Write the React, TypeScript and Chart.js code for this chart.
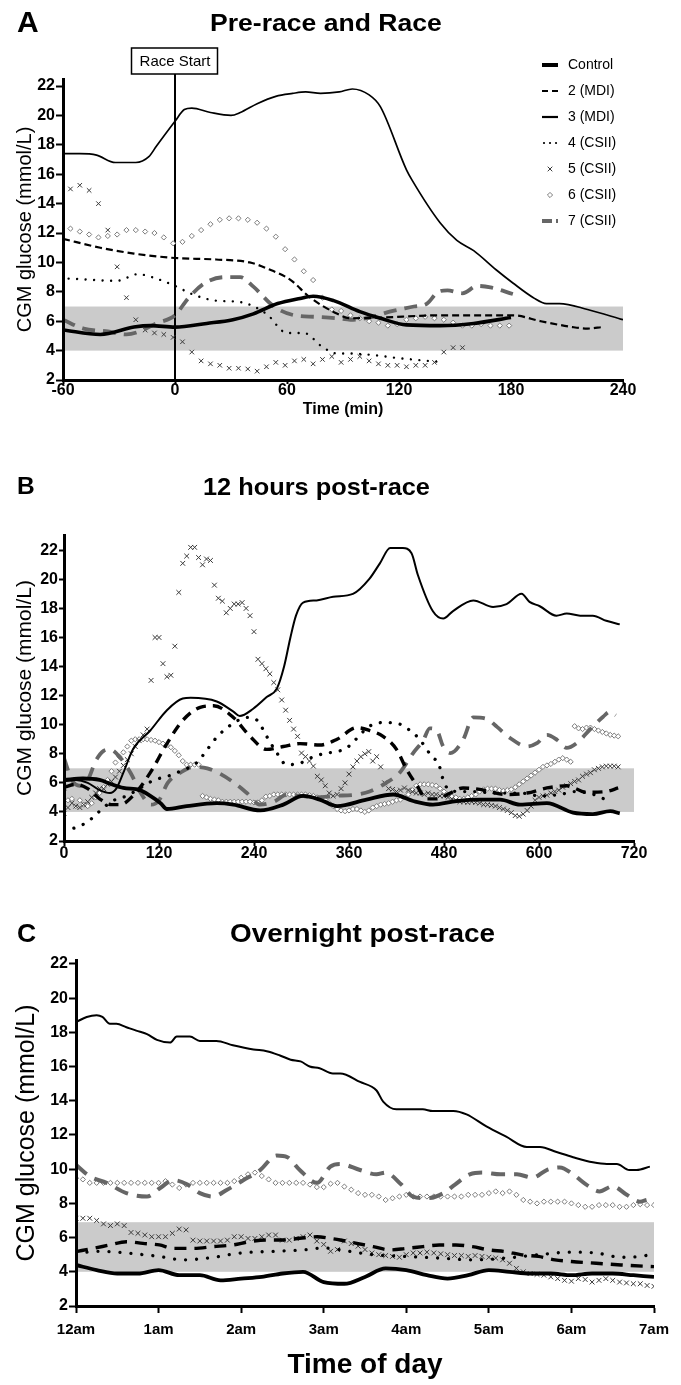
import React, { useEffect, useRef } from 'react';
import { Chart, registerables } from 'chart.js';

Chart.register(...registerables);

const FONT = "'Liberation Sans', Arial, Helvetica, sans-serif";
Chart.defaults.font.family = FONT;
Chart.defaults.color = '#000';

// ---------- labels / ticks ----------
const yTitle = 'CGM glucose (mmol/L)';
const yTicks = [2, 4, 6, 8, 10, 12, 14, 16, 18, 20, 22];
const aXTicks = [-60, 0, 60, 120, 180, 240];
const bXTicks = [0, 120, 240, 360, 480, 600, 720];
const cXTicks = [0, 1, 2, 3, 4, 5, 6, 7];
const cXLabels = ['12am', '1am', '2am', '3am', '4am', '5am', '6am', '7am'];
const seriesNames = ['Control', '2 (MDI)', '3 (MDI)', '4 (CSII)', '5 (CSII)', '6 (CSII)', '7 (CSII)'];
const targetAB = [4, 7];
const targetC = [4, 6.9];
const raceStartMin = 0;
const cgmStepMin = 5;

// ---------- Panel A: Pre-race and Race (minutes) ----------
const aCtrlT = [-60, -40, -22, -13, 0, 17, 31, 42, 55, 67, 74, 85, 99, 110, 124, 142, 160, 180];
const aCtrlV = [5.4, 5.1, 5.6, 5.7, 5.6, 5.85, 6.1, 6.5, 7.2, 7.55, 7.7, 7.4, 6.65, 6.2, 5.75, 5.7, 5.85, 6.25];
const a2T = [-60, -40, -22, 0, 22, 40, 49, 62, 72, 87, 94, 110, 142, 181, 196, 213, 221, 229];
const a2V = [11.6, 11.0, 10.6, 10.3, 10.2, 10.0, 9.6, 8.8, 7.65, 6.5, 6.2, 6.25, 6.4, 6.4, 6.0, 5.6, 5.5, 5.6];
const a3T = [-60, -51, -42, -32, -21, -14, -10, 0, 5, 9, 19, 30, 35, 44, 54, 63, 70, 78, 88, 95, 104, 110, 124, 127, 142, 151, 160, 172, 181, 192, 199, 206, 221, 240];
const a3V = [17.4, 17.4, 17.3, 16.8, 16.8, 17.2, 17.9, 19.6, 20.4, 20.5, 20.2, 20.0, 20.2, 20.8, 21.3, 21.5, 21.6, 21.5, 21.6, 21.8, 21.4, 20.6, 16.3, 15.6, 12.7, 11.5, 10.8, 9.5, 8.6, 7.6, 7.2, 7.2, 6.8, 6.1];
const a4T = [-57, -31, -20, -10, 0, 10, 22, 35, 49, 60, 69, 79, 87, 94, 106, 119, 140];
const a4V = [8.9, 8.75, 9.2, 8.9, 8.4, 7.8, 7.4, 7.3, 6.5, 5.2, 5.2, 4.25, 3.8, 3.8, 3.7, 3.5, 3.25];
const a5Start = -61;
const a5V = [14.5, 15.0, 15.25, 14.9, 14.0, 12.2, 9.7, 7.6, 6.1, 5.4, 5.2, 5.1, 4.9, 4.6, 3.9, 3.3, 3.1, 3.0, 2.8, 2.8, 2.75, 2.6, 2.9, 3.2, 3.0, 3.3, 3.4, 3.1, 3.4, 3.6, 3.2, 3.4, 3.6, 3.3, 3.1, 3.0, 3.0, 2.9, 3.0, 3.0, 3.2, 3.9, 4.2, 4.2];
const a6Start = -61;
const a6V = [12.25, 12.3, 12.1, 11.9, 11.7, 11.8, 11.9, 12.2, 12.2, 12.1, 12.0, 11.7, 11.3, 11.4, 11.8, 12.2, 12.6, 12.9, 13.0, 13.0, 12.9, 12.7, 12.3, 11.75, 10.9, 10.2, 9.4, 8.8, 7.6, 6.8, 6.7, 6.4, 6.2, 6.0, 5.9, 5.7, 5.8, 6.1, 6.2, 6.3, 6.2, 6.1, 5.9, 5.7, 5.7, 5.8, 5.7, 5.7, 5.7];
const a7T = [-60, -49, -36, -26, -19, -10, 0, 7, 16, 27, 35, 42, 53, 64, 75, 87, 94, 106, 115, 128, 135, 141, 146, 154, 162, 169, 181];
const a7V = [6.1, 5.5, 5.3, 5.1, 5.3, 5.85, 6.4, 7.55, 8.6, 9.0, 9.0, 8.35, 7.0, 6.4, 6.3, 6.2, 6.1, 6.3, 6.65, 7.0, 7.2, 8.0, 8.1, 7.9, 8.4, 8.3, 7.85];

// ---------- Panel B: 12 hours post-race (minutes) ----------
const bCtrlT = [0, 24, 45, 60, 75, 96, 109, 122, 130, 155, 193, 214, 248, 277, 302, 323, 345, 382, 416, 441, 466, 496, 525, 551, 576, 610, 643, 668, 690, 702];
const bCtrlV = [6.2, 6.3, 6.2, 5.9, 5.65, 5.5, 5.1, 4.6, 4.2, 4.4, 4.6, 4.5, 4.1, 4.5, 5.1, 4.85, 4.4, 4.85, 5.2, 4.75, 4.5, 4.75, 4.85, 4.85, 4.5, 4.6, 3.95, 3.85, 4.05, 3.9];
const b2T = [0, 15, 30, 45, 60, 71, 87, 109, 130, 150, 172, 189, 214, 235, 256, 277, 298, 323, 345, 370, 386, 403, 420, 433, 446, 458, 470, 488, 504, 525, 559, 585, 610, 635, 660, 685, 700];
const b2V = [5.7, 5.9, 5.6, 4.9, 4.5, 4.5, 5.1, 6.7, 8.7, 10.3, 11.2, 11.3, 10.5, 9.2, 8.3, 8.5, 8.7, 8.6, 9.0, 9.8, 9.6, 9.2, 8.3, 6.9, 5.8, 4.9, 4.9, 5.3, 5.65, 5.55, 5.2, 5.3, 5.65, 5.8, 5.35, 5.4, 5.65];
const b3T = [0, 15, 30, 45, 58, 66, 75, 87, 109, 130, 150, 160, 193, 214, 222, 239, 256, 269, 278, 286, 293, 302, 319, 340, 365, 386, 399, 412, 428, 439, 447, 466, 479, 491, 517, 542, 559, 578, 588, 601, 622, 635, 652, 668, 685, 702];
const b3V = [6.1, 6.2, 6.0, 5.5, 5.3, 5.6, 6.7, 8.3, 9.6, 11.0, 11.8, 11.85, 11.6, 10.9, 10.6, 11.1, 11.9, 12.5, 14.0, 16.0, 17.5, 18.4, 18.55, 18.8, 19.0, 20.05, 21.1, 22.15, 22.15, 21.8, 20.3, 17.8, 17.3, 17.8, 18.55, 18.1, 18.3, 19.0, 18.45, 18.15, 17.5, 17.65, 17.5, 17.5, 17.15, 16.9];
const b4T = [0, 10, 21, 34, 50, 63, 79, 101, 114, 131, 147, 168, 181, 194, 214, 231, 244, 256, 269, 281, 298, 315, 332, 345, 357, 366, 386, 405, 426, 437, 450, 458, 467, 473, 479, 484, 500, 517, 547, 576, 602, 627, 644, 669, 682, 692];
const b4V = [2.8, 2.85, 3.05, 3.5, 4.3, 4.8, 5.1, 5.8, 6.2, 6.45, 6.8, 7.4, 8.3, 9.2, 10.1, 10.5, 10.3, 9.2, 8.05, 7.25, 7.35, 7.8, 8.05, 8.15, 8.4, 8.85, 9.9, 10.15, 10.0, 9.6, 8.95, 8.3, 7.7, 7.35, 6.2, 5.65, 5.4, 5.4, 5.3, 5.3, 5.1, 5.2, 5.4, 5.2, 4.9, 4.75];
const b5V = [
  3.9, 4.3, 4.6, 4.4, 4.3, 4.5, 4.7, 5.0, 5.3, 5.6,
  5.6, 5.9, 6.1, 6.4, 6.8, 7.2, 7.6, 8.0, 8.5, 8.9,
  9.3, 9.7, 13.05, 16.0, 16.0, 14.2, 13.3, 13.4, 15.4, 19.1,
  21.1, 21.6, 22.2, 22.2, 21.5, 21.0, 21.4, 21.3, 19.6, 18.7,
  18.5, 17.7, 18.0, 18.3, 18.3, 18.4, 18.0, 17.5, 16.4, 14.5,
  14.2, 13.85, 13.5, 12.9, 12.4, 11.7, 11.0, 10.3, 9.7, 9.2,
  8.05, 7.8, 7.5, 7.15, 6.45, 6.2, 5.8, 5.3, 5.1, 5.2,
  5.6, 6.0, 6.6, 7.1, 7.5, 7.8, 8.0, 8.15, 7.5, 7.8,
  7.1, 6.0, 5.6, 5.55, 5.4, 5.5, 5.65, 5.5, 5.4, 5.3,
  5.3, 5.2, 5.3, 5.2, 5.2, 5.1, 5.1, 5.0, 4.9, 4.8,
  4.7, 4.7, 4.65, 4.7, 4.65, 4.6, 4.5, 4.5, 4.45, 4.4,
  4.3, 4.2, 4.1, 3.95, 3.75, 3.7, 3.85, 4.1, 4.4, 4.8,
  5.0, 5.1, 5.15, 5.3, 5.4, 5.5, 5.7, 5.8, 5.95, 6.1,
  6.2, 6.45, 6.6, 6.7, 6.9, 7.0, 7.1, 7.15, 7.15, 7.15,
  7.1,
];
const b6LowV = [
  5.5, 4.8, 4.9, 4.4, 4.8, 4.5, 4.4, 4.6, 5.0, 5.3,
  5.7, 6.2, 6.8, 7.4, 7.8, 8.1, 8.5, 8.9, 9.0, 9.0,
  9.0, 9.0, 8.95, 8.9, 8.8, 8.7, 8.6, 8.45, 8.2, 7.9,
  7.5, 7.25, 7.25, 7.25, 7.25, 5.1, 5.0, 4.9, 4.85, 4.8,
  4.7, 4.7, 4.7, 4.7, 4.7, 4.7, 4.7, 4.7, 4.65, 4.65,
  4.8, 5.05, 5.1, 5.2, 5.2, 5.2, 5.2, 5.2, 5.2, 5.2,
  5.2, 5.2, 5.15, 5.1, 5.0, 4.95, 4.85, 4.6, 4.4, 4.2,
  4.1, 4.05, 4.1, 4.2, 4.2, 4.1, 4.0, 4.1, 4.3, 4.4,
  4.5, 4.55, 4.6, 4.7, 4.8, 4.85, 5.0, 5.2, 5.5, 5.8,
  5.9, 5.9, 5.9, 5.85, 5.8, 5.6, 5.4, 5.2, 5.05, 5.0,
  4.9, 4.9, 5.0, 5.1, 5.2, 5.4, 5.55, 5.6, 5.6, 5.6,
  5.5, 5.45, 5.5, 5.55, 5.7, 5.9, 6.1, 6.3, 6.5, 6.7,
  6.9, 7.1, 7.2, 7.3, 7.45, 7.6, 7.7, 7.6, 7.45,
];
const b6HighStart = 645;
const b6HighV = [9.9, 9.75, 9.7, 9.8, 9.8, 9.7, 9.6, 9.5, 9.4, 9.3, 9.25, 9.2];
const b7T = [0, 10, 20, 30, 40, 50, 58, 70, 84, 97, 110, 120, 131, 147, 164, 181, 198, 215, 231, 248, 265, 282, 300, 320, 340, 370, 386, 407, 424, 441, 454, 462, 471, 479, 488, 504, 517, 534, 547, 563, 585, 598, 610, 623, 635, 648, 664, 681, 690, 697];
const b7V = [7.7, 6.2, 5.8, 6.2, 7.5, 8.2, 8.3, 7.8, 6.7, 5.3, 4.5, 4.8, 6.0, 6.7, 7.1, 7.0, 6.6, 6.0, 5.3, 4.5, 4.7, 5.2, 5.1, 5.0, 5.1, 5.2, 5.4, 6.0, 6.7, 8.05, 8.95, 9.75, 9.6, 8.5, 8.05, 8.95, 10.5, 10.4, 9.85, 9.1, 8.5, 8.75, 9.3, 8.95, 8.4, 8.75, 9.65, 10.55, 10.9, 10.65];

// ---------- Panel C: Overnight post-race (hours after midnight) ----------
const cCtrlH = [0, 0.25, 0.5, 0.75, 1, 1.25, 1.5, 1.75, 2, 2.25, 2.5, 2.75, 3, 3.25, 3.5, 3.75, 4, 4.25, 4.5, 4.75, 5, 5.25, 5.5, 5.75, 6, 6.25, 6.5, 6.75, 7];
const cCtrlV = [4.4, 4.1, 3.9, 3.9, 4.1, 3.8, 3.8, 3.5, 3.6, 3.7, 3.9, 4.0, 3.4, 3.3, 3.7, 4.2, 4.1, 3.8, 3.6, 3.8, 4.1, 4.0, 3.9, 3.9, 3.8, 3.9, 3.9, 3.8, 3.7];
const c2H = [0, 0.21, 0.41, 0.61, 0.81, 1.01, 1.18, 1.42, 1.66, 1.9, 2.1, 2.31, 2.51, 2.71, 2.92, 3.07, 3.2, 3.4, 3.6, 3.8, 4.0, 4.2, 4.4, 4.6, 4.8, 5.0, 5.2, 5.4, 5.6, 5.8, 6.0, 6.3, 6.6, 7.0];
const c2V = [5.18, 5.37, 5.57, 5.76, 5.66, 5.57, 5.37, 5.37, 5.47, 5.57, 5.76, 5.86, 5.86, 5.96, 6.05, 5.96, 5.86, 5.66, 5.47, 5.28, 5.37, 5.47, 5.57, 5.57, 5.47, 5.28, 5.18, 4.99, 4.9, 4.7, 4.6, 4.5, 4.4, 4.3];
const c3H = [0, 0.13, 0.25, 0.32, 0.41, 0.49, 0.61, 0.73, 0.86, 0.98, 1.14, 1.22, 1.38, 1.5, 1.7, 1.9, 2.15, 2.31, 2.47, 2.6, 2.72, 2.83, 2.95, 3.11, 3.2, 3.44, 3.64, 3.72, 3.88, 4.2, 4.32, 4.57, 4.73, 4.97, 5.21, 5.46, 5.62, 5.82, 6.02, 6.26, 6.43, 6.55, 6.7, 6.79, 6.95];
const c3V = [18.6, 18.9, 19.0, 18.9, 18.5, 18.5, 18.3, 18.1, 17.9, 17.56, 17.4, 17.75, 17.75, 17.5, 17.5, 17.25, 17.0, 16.9, 16.65, 16.4, 16.3, 16.0, 15.9, 15.6, 15.6, 15.1, 14.6, 13.95, 13.5, 13.5, 13.4, 13.4, 13.2, 12.5, 11.9, 11.3, 11.3, 11.0, 10.7, 10.4, 10.3, 10.3, 9.95, 9.95, 10.15];
const c4H = [0, 0.3, 0.6, 1.0, 1.3, 1.6, 2.0, 2.4, 2.8, 3.0, 3.3, 3.6, 4.0, 4.4, 4.8, 5.2, 5.6, 6.0, 6.3, 6.6, 6.9, 7.0];
const c4V = [5.1, 5.2, 5.1, 4.9, 4.7, 4.8, 5.1, 5.2, 5.3, 5.4, 5.2, 5.0, 4.9, 4.8, 4.7, 4.8, 5.0, 5.15, 5.1, 4.85, 4.95, 5.1];
const c5V = [
  7.13, 7.13, 7.13, 7.0, 6.8, 6.7, 6.8, 6.7, 6.3, 6.25,
  6.15, 6.05, 6.05, 6.05, 6.25, 6.5, 6.45, 5.85, 5.8, 5.8,
  5.8, 5.8, 5.85, 6.05, 6.05, 5.95, 5.95, 6.05, 6.15, 6.15,
  5.85, 5.85, 5.95, 6.05, 6.15, 5.8, 5.6, 5.2, 5.3, 5.8,
  5.65, 5.5, 5.3, 5.1, 5.0, 4.95, 4.9, 4.85, 5.0, 5.1,
  5.1, 5.15, 5.1, 5.05, 5.0, 4.95, 4.95, 4.9, 4.95, 4.9,
  4.85, 4.8, 4.7, 4.5, 4.2, 4.0, 3.9, 3.85, 3.8, 3.7,
  3.6, 3.5, 3.45, 3.6, 3.55, 3.4, 3.5, 3.6, 3.5, 3.4,
  3.35, 3.3, 3.3, 3.2, 3.15,
];
const c6V = [
  9.47, 9.4, 9.2, 9.2, 9.2, 9.2, 9.2, 9.2, 9.2, 9.2,
  9.2, 9.2, 9.2, 9.3, 9.1, 8.9, 9.1, 9.2, 9.2, 9.2,
  9.2, 9.2, 9.2, 9.3, 9.5, 9.7, 9.8, 9.6, 9.4, 9.2,
  9.2, 9.2, 9.2, 9.2, 9.1, 8.95, 8.95, 9.15, 9.2, 8.98,
  8.8, 8.6, 8.5, 8.5, 8.4, 8.2, 8.3, 8.4, 8.5, 8.4,
  8.4, 8.4, 8.4, 8.4, 8.4, 8.4, 8.4, 8.5, 8.5, 8.5,
  8.6, 8.7, 8.6, 8.7, 8.5, 8.2, 8.1, 8.0, 8.1, 8.1,
  8.1, 8.1, 8.0, 7.9, 7.8, 7.8, 7.9, 7.9, 7.9, 7.8,
  7.8, 7.9, 7.95, 7.9, 7.9,
];
const c7H = [0, 0.17, 0.37, 0.61, 0.86, 1.02, 1.18, 1.35, 1.5, 1.66, 1.83, 2.03, 2.23, 2.43, 2.56, 2.71, 2.92, 3.08, 3.2, 3.44, 3.64, 3.75, 3.94, 4.08, 4.25, 4.45, 4.59, 4.77, 4.93, 5.14, 5.34, 5.53, 5.7, 5.86, 6.02, 6.18, 6.34, 6.5, 6.67, 6.83, 6.91];
const c7V = [10.25, 9.57, 9.2, 8.6, 8.4, 8.9, 9.36, 9.1, 8.6, 8.4, 8.8, 9.36, 9.95, 10.8, 10.7, 9.95, 9.2, 10.15, 10.3, 9.95, 9.7, 9.8, 9.1, 8.4, 8.3, 8.6, 9.1, 9.7, 9.8, 9.7, 9.7, 9.5, 9.95, 10.1, 9.7, 9.1, 8.7, 9.0, 8.5, 8.1, 8.2];

// ---------- helpers ----------
const pts = (t: number[], v: number[]) => t.map((x, i) => ({ x, y: v[i] }));
const stepped = (start: number, step: number, v: number[]) => v.map((y, i) => ({ x: start + i * step, y }));

const BLACK = '#000';
const GREY_LINE = '#666';
const X_COLOR = '#3a3a3a';
const DIAMOND_COLOR = '#7c7c7c';
const BAND = '#cbcbcb';

type PS = {
  ctrlW: number; d2W: number; d2Dash: number[]; d3W: number; d4W: number; d4Gap: number;
  d7W: number; d7Dash: number[]; xR: number; dR: number;
};
const styleA: PS = { ctrlW: 3.6, d2W: 2.2, d2Dash: [7, 4], d3W: 1.7, d4W: 2.4, d4Gap: 8.5, d7W: 3.8, d7Dash: [13, 8], xR: 3.2, dR: 2.6 };
const styleB: PS = { ctrlW: 3.8, d2W: 3.4, d2Dash: [10, 7], d3W: 2, d4W: 3.3, d4Gap: 10, d7W: 3.8, d7Dash: [13, 9], xR: 3.4, dR: 2.6 };
const styleC: PS = { ctrlW: 3.8, d2W: 3.4, d2Dash: [12, 8], d3W: 2, d4W: 3.3, d4Gap: 11, d7W: 4, d7Dash: [14, 9], xR: 3.4, dR: 2.6 };

function makeDatasets(s: PS, d: any) {
  const line = (data: any, color: string, width: number, dash: number[], cap = 'butt') => ({
    data, showLine: true, borderColor: color, backgroundColor: color, borderWidth: width,
    borderDash: dash, borderCapStyle: cap, borderJoinStyle: 'round', pointRadius: 0,
    pointHoverRadius: 0, fill: false, cubicInterpolationMode: 'monotone',
  });
  const marks = (data: any, style: string, color: string, r: number, bg: string) => ({
    data, showLine: false, pointStyle: style, pointRadius: r, pointHoverRadius: r,
    pointBorderColor: color, pointBackgroundColor: bg, pointBorderWidth: 1,
    borderColor: color, backgroundColor: bg,
  });
  return [
    line(d.ctrl, BLACK, s.ctrlW, []),
    line(d.m3, BLACK, s.d3W, []),
    line(d.m2, BLACK, s.d2W, s.d2Dash),
    line(d.c4, BLACK, s.d4W, [0.01, s.d4Gap], 'round'),
    line(d.c7, GREY_LINE, s.d7W, s.d7Dash),
    marks(d.c5, 'crossRot', X_COLOR, s.xR, X_COLOR),
    marks(d.c6, 'rectRot', DIAMOND_COLOR, s.dR, '#fff'),
  ];
}

function makeScales(o: any) {
  const tickGrid = (len: number) => ({
    display: true, drawOnChartArea: false, drawTicks: true, tickLength: len,
    tickWidth: 2, tickColor: BLACK, color: BLACK,
  });
  const border = { display: true, color: BLACK, width: 3, z: 1 };
  return {
    x: {
      type: 'linear', position: 'bottom', min: o.xMin, max: o.xMax,
      afterBuildTicks: (sc: any) => { sc.ticks = o.xTicks.map((v: number) => ({ value: v })); },
      afterFit: (sc: any) => { sc.height = o.xH; sc.paddingLeft = 0; sc.paddingRight = 0; },
      ticks: {
        color: BLACK, font: { family: FONT, size: o.xFont, weight: 'bold' }, padding: o.xPad,
        maxRotation: 0, minRotation: 0, autoSkip: false, callback: o.xCb,
      },
      grid: tickGrid(o.xTick),
      border,
      title: o.xTitle || { display: false },
    },
    y: {
      type: 'linear', position: 'left', min: 2, max: o.yMax,
      afterBuildTicks: (sc: any) => { sc.ticks = yTicks.map((v) => ({ value: v })); },
      afterFit: (sc: any) => { sc.width = o.yW; sc.paddingTop = 0; sc.paddingBottom = 0; },
      ticks: {
        color: BLACK, font: { family: FONT, size: o.yFont, weight: 'bold' }, padding: o.yPad,
        autoSkip: false, callback: (v: number) => String(v),
      },
      grid: tickGrid(o.yTick),
      border,
      title: {
        display: true, text: yTitle, color: BLACK,
        font: { family: FONT, size: o.yTitleSize, weight: 'normal' },
        padding: { top: o.yTitlePad, bottom: 0 },
      },
    },
  };
}

const bandPlugin = (range: number[]) => ({
  id: 'targetBand',
  beforeDatasetsDraw(chart: any) {
    const { ctx, chartArea: ca, scales } = chart;
    const yTop = scales.y.getPixelForValue(range[1]);
    const yBot = scales.y.getPixelForValue(range[0]);
    ctx.save();
    ctx.fillStyle = BAND;
    ctx.fillRect(ca.left, yTop, ca.right - ca.left, yBot - yTop);
    ctx.restore();
  },
});

const raceStartPlugin = {
  id: 'raceStart',
  beforeDatasetsDraw(chart: any) {
    const { ctx, chartArea: ca, scales } = chart;
    const x = scales.x.getPixelForValue(raceStartMin);
    ctx.save();
    ctx.strokeStyle = BLACK;
    ctx.lineWidth = 2;
    ctx.beginPath();
    ctx.moveTo(x, 74);
    ctx.lineTo(x, ca.bottom);
    ctx.stroke();
    ctx.fillStyle = '#fff';
    ctx.lineWidth = 1.5;
    ctx.fillRect(x - 43.5, 48, 86, 26);
    ctx.strokeRect(x - 43.5, 48, 86, 26);
    ctx.fillStyle = BLACK;
    ctx.font = `15px ${FONT}`;
    ctx.textAlign = 'center';
    ctx.textBaseline = 'middle';
    ctx.fillText('Race Start', x, 61.5);
    ctx.restore();
  },
};

const legendRowY = [65, 91, 117, 143, 169, 195, 221];
const legendPlugin = {
  id: 'legendA',
  afterDraw(chart: any) {
    const ctx = chart.ctx;
    const s = styleA;
    const x0 = 542, x1 = 558, cx = 550, tx = 568;
    ctx.save();
    const seg = (y: number, color: string, w: number, dash: number[], cap: string, a = x0, b = x1) => {
      ctx.beginPath();
      ctx.setLineDash(dash);
      ctx.lineCap = cap;
      ctx.strokeStyle = color;
      ctx.lineWidth = w;
      ctx.moveTo(a, y);
      ctx.lineTo(b, y);
      ctx.stroke();
    };
    seg(legendRowY[0], BLACK, 4, [], 'butt');
    seg(legendRowY[1], BLACK, 2.2, [6, 4], 'butt');
    seg(legendRowY[2], BLACK, 2.2, [], 'butt');
    seg(legendRowY[3], BLACK, 2.2, [0.01, 6], 'round', x0 + 2, x1);
    // x marker
    ctx.setLineDash([]);
    ctx.lineCap = 'butt';
    ctx.strokeStyle = X_COLOR;
    ctx.lineWidth = 1;
    const r = 2.3, y5 = legendRowY[4];
    ctx.beginPath();
    ctx.moveTo(cx - r, y5 - r); ctx.lineTo(cx + r, y5 + r);
    ctx.moveTo(cx + r, y5 - r); ctx.lineTo(cx - r, y5 + r);
    ctx.stroke();
    // diamond
    const y6 = legendRowY[5], d = s.dR;
    ctx.beginPath();
    ctx.moveTo(cx, y6 - d); ctx.lineTo(cx + d, y6); ctx.lineTo(cx, y6 + d); ctx.lineTo(cx - d, y6);
    ctx.closePath();
    ctx.fillStyle = '#fff';
    ctx.fill();
    ctx.strokeStyle = DIAMOND_COLOR;
    ctx.stroke();
    seg(legendRowY[6], GREY_LINE, 4, [10, 4], 'butt');
    ctx.setLineDash([]);
    ctx.fillStyle = BLACK;
    ctx.font = `14px ${FONT}`;
    ctx.textAlign = 'left';
    ctx.textBaseline = 'middle';
    seriesNames.forEach((name, i) => ctx.fillText(name, tx, legendRowY[i] + 0.5));
    ctx.restore();
  },
};

function build(canvas: HTMLCanvasElement, p: any) {
  return new Chart(canvas, {
    type: 'scatter',
    data: { datasets: p.datasets },
    options: {
      responsive: false,
      animation: false,
      events: [],
      layout: { padding: { left: 0, top: p.padTop, right: p.padRight, bottom: 0 }, autoPadding: false },
      plugins: { legend: { display: false }, tooltip: { enabled: false }, title: { display: false } },
      scales: p.scales,
    } as any,
    plugins: p.plugins,
  } as any);
}

const buildA = (c: HTMLCanvasElement) => build(c, {
  padTop: 79, padRight: 58,
  datasets: makeDatasets(styleA, {
    ctrl: pts(aCtrlT, aCtrlV), m2: pts(a2T, a2V), m3: pts(a3T, a3V), c4: pts(a4T, a4V),
    c5: stepped(a5Start, cgmStepMin, a5V), c6: stepped(a6Start, cgmStepMin, a6V), c7: pts(a7T, a7V),
  }),
  scales: makeScales({
    xMin: -60, xMax: 240, xTicks: aXTicks, xH: 50, xFont: 16, xPad: -3, xTick: 4,
    xCb: (v: number) => String(v),
    xTitle: { display: true, text: 'Time (min)', color: BLACK, font: { family: FONT, size: 16, weight: 'bold' }, padding: { top: 0, bottom: 10.4 } },
    yMax: 22.48, yW: 63, yFont: 16, yPad: 1, yTick: 7, yTitleSize: 20, yTitlePad: 13,
  }),
  plugins: [bandPlugin(targetAB), raceStartPlugin, legendPlugin],
});

const buildB = (c: HTMLCanvasElement) => build(c, {
  padTop: 95, padRight: 47,
  datasets: makeDatasets(styleB, {
    ctrl: pts(bCtrlT, bCtrlV), m2: pts(b2T, b2V), m3: pts(b3T, b3V), c4: pts(b4T, b4V),
    c5: stepped(0, cgmStepMin, b5V),
    c6: stepped(0, cgmStepMin, b6LowV).concat(stepped(b6HighStart, cgmStepMin, b6HighV)),
    c7: pts(b7T, b7V),
  }),
  scales: makeScales({
    xMin: 0, xMax: 720, xTicks: bXTicks, xH: 39, xFont: 16, xPad: -2, xTick: 5,
    xCb: (v: number) => String(v),
    yMax: 23.05, yW: 64, yFont: 16, yPad: 1, yTick: 5, yTitleSize: 21, yTitlePad: 12.4,
  }),
  plugins: [bandPlugin(targetAB)],
});

const buildC = (c: HTMLCanvasElement) => build(c, {
  padTop: 80, padRight: 27,
  datasets: makeDatasets(styleC, {
    ctrl: pts(cCtrlH, cCtrlV), m2: pts(c2H, c2V), m3: pts(c3H, c3V), c4: pts(c4H, c4V),
    c5: stepped(0, cgmStepMin / 60, c5V), c6: stepped(0, cgmStepMin / 60, c6V), c7: pts(c7H, c7V),
  }),
  scales: makeScales({
    xMin: 0, xMax: 7, xTicks: cXTicks, xH: 79, xFont: 15, xPad: 8, xTick: 7,
    xCb: (v: number) => cXLabels[cXTicks.indexOf(v)],
    xTitle: { display: true, text: 'Time of day', color: BLACK, font: { family: FONT, size: 28, weight: 'bold' }, padding: { top: 0, bottom: 3.2 } },
    yMax: 22.23, yW: 76, yFont: 16, yPad: 1, yTick: 7, yTitleSize: 25, yTitlePad: 12,
  }),
  plugins: [bandPlugin(targetC)],
});

function ChartCanvas({ top, height, make }: { top: number; height: number; make: (c: HTMLCanvasElement) => Chart }) {
  const ref = useRef<HTMLCanvasElement | null>(null);
  useEffect(() => {
    if (!ref.current) return;
    const chart = make(ref.current);
    return () => chart.destroy();
  }, [make]);
  return (
    <canvas
      ref={ref}
      width={681}
      height={height}
      style={{ position: 'absolute', left: 0, top, width: 681, height, display: 'block' }}
    />
  );
}

function Label({ text, left, top, size, sx = 1 }: { text: string; left: number; top: number; size: number; sx?: number }) {
  return (
    <div
      style={{
        position: 'absolute', left, top, fontFamily: FONT, fontWeight: 'bold', fontSize: size,
        lineHeight: `${size}px`, whiteSpace: 'nowrap', color: '#000',
        transform: `scaleX(${sx})`, transformOrigin: 'left top',
      }}
    >
      {text}
    </div>
  );
}

export default function App() {
  return (
    <div style={{ position: 'absolute', left: 0, top: 0, width: 681, height: 1385, background: '#fff', overflow: 'hidden' }}>
      <ChartCanvas top={0} height={430} make={buildA} />
      <ChartCanvas top={440} height={440} make={buildB} />
      <ChartCanvas top={880} height={505} make={buildC} />
      <Label text="A" left={17} top={6.6} size={30} />
      <Label text="Pre-race and Race" left={210} top={12.1} size={23.5} sx={1.13} />
      <Label text="B" left={17} top={474.3} size={24.5} />
      <Label text="12 hours post-race" left={203} top={474.7} size={24} sx={1.057} />
      <Label text="C" left={17} top={919.6} size={26.5} />
      <Label text="Overnight post-race" left={230} top={920} size={26} sx={1.073} />
    </div>
  );
}
